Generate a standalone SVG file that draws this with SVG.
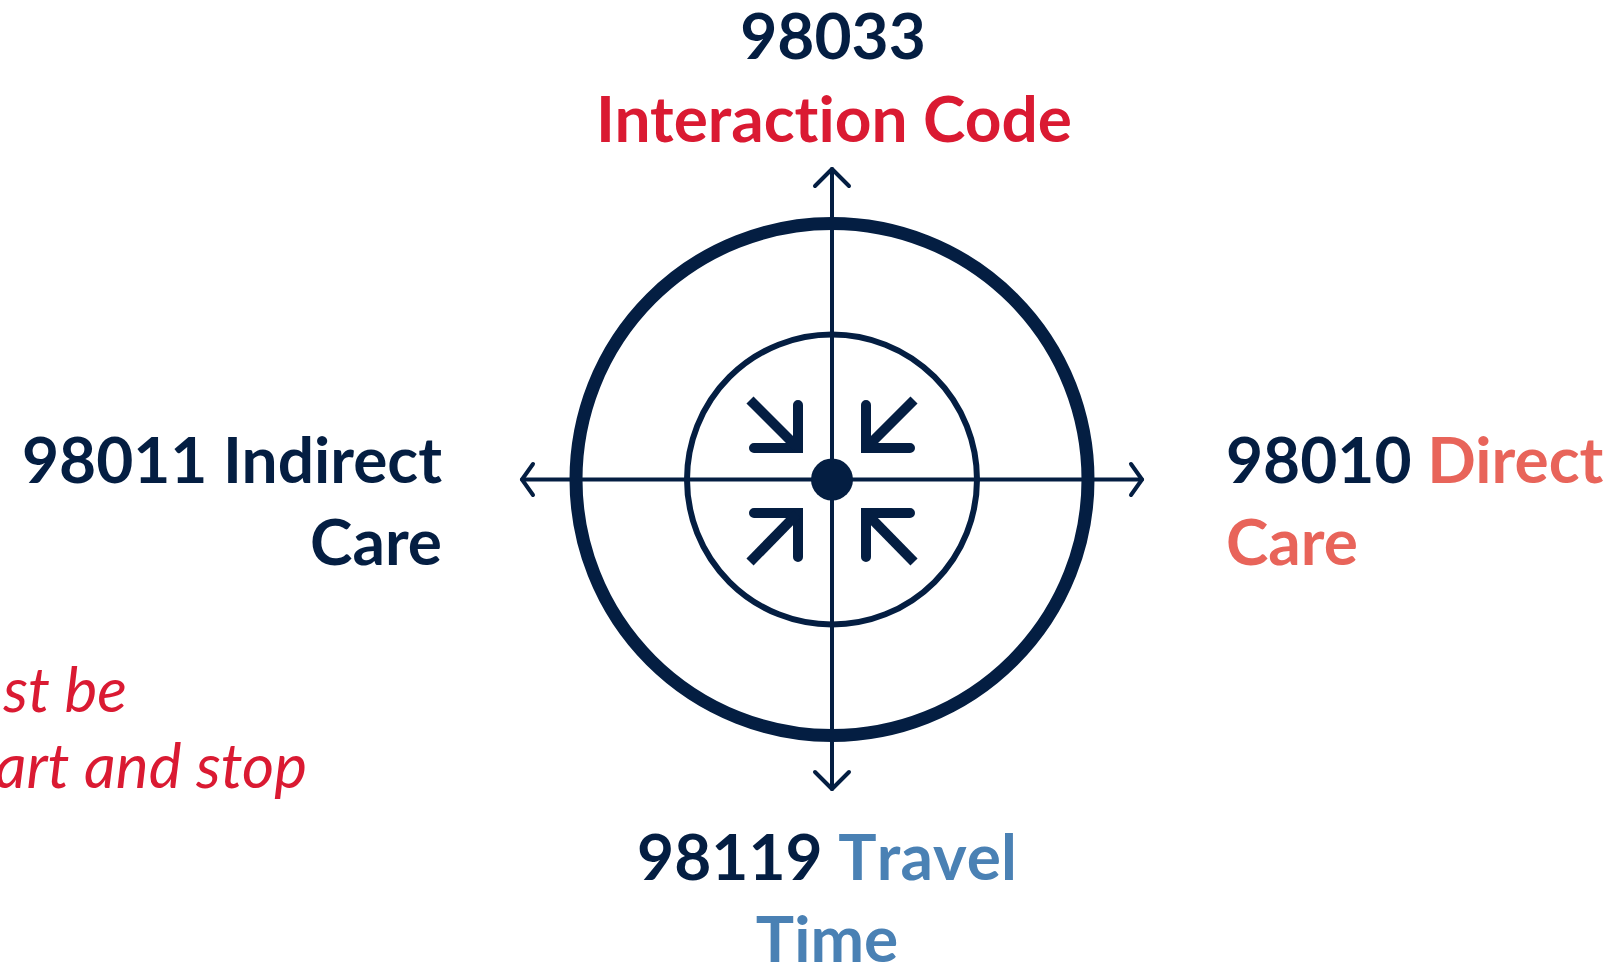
<svg xmlns="http://www.w3.org/2000/svg" width="1613" height="967" viewBox="0 0 1613 967">
<style>
text{font-variant-ligatures:none;font-feature-settings:"liga" 0,"clig" 0}
.lbl{font-family:Lato,"Open Sans","Liberation Sans",sans-serif;font-weight:700;font-size:64px}
.nok{font-kerning:none}
.navy{fill:#041e42}
.red{fill:#da1a32}
.coral{fill:#e8645a}
.blue{fill:#4a81b4}
.note{font-family:Lato,"Open Sans","Liberation Sans",sans-serif;font-style:italic;font-weight:400;font-size:62px;fill:#da1a32}
.axis{stroke:#041e42;stroke-width:4;fill:none;stroke-linecap:round;stroke-linejoin:round}
.arm{stroke:#041e42;stroke-width:10;fill:none;stroke-linecap:round;stroke-linejoin:miter}
.diag{stroke:#041e42;stroke-width:10;fill:none;stroke-linecap:butt}
</style>
<rect width="1613" height="967" fill="#ffffff"/>
<g id="target">
<circle cx="832" cy="479.5" r="256" fill="none" stroke="#041e42" stroke-width="13"/>
<circle cx="832" cy="479.5" r="145" fill="none" stroke="#041e42" stroke-width="6"/>
</g>
<g id="connectors">
<line class="axis" x1="832" y1="169" x2="832" y2="789"/>
<line class="axis" x1="522" y1="479.5" x2="1142" y2="479.5"/>
<polyline class="axis" points="815,186 832,169 849,186"/>
<polyline class="axis" points="815,772 832,789 849,772"/>
<polyline class="axis" points="533,464 522,479.5 533,495"/>
<polyline class="axis" points="1131,464 1142,479.5 1131,495"/>
</g>
<g id="center-icon">
<circle cx="832" cy="479.5" r="21" fill="#041e42"/>
<path class="arm" d="M754,448 H798 V405"/>
<path class="diag" d="M750,400 L797,447"/>
<path class="arm" d="M910,448 H866 V405"/>
<path class="diag" d="M914,400 L867,447"/>
<path class="arm" d="M754,513 H798 V557"/>
<path class="diag" d="M750,562 L797,514"/>
<path class="arm" d="M910,513 H866 V557"/>
<path class="diag" d="M914,562 L867,514"/>
</g>
<g id="label-top">
<text class="lbl navy" x="833" y="59" text-anchor="middle">98033</text>
<text class="lbl red" x="834" y="142" text-anchor="middle">Interaction Code</text>
</g>
<g id="label-left">
<text class="lbl navy" x="442" y="483" text-anchor="end">98011 Indirect</text>
<text class="lbl navy" x="442" y="565" text-anchor="end">Care</text>
</g>
<g id="label-right">
<text class="lbl" x="1226" y="483"><tspan class="navy">98010 </tspan><tspan class="coral">Direct</tspan></text>
<text class="lbl coral" x="1226" y="565">Care</text>
</g>
<g id="label-bottom">
<text class="lbl nok" x="827" y="880" text-anchor="middle"><tspan class="navy">98119 </tspan><tspan class="blue">Travel</tspan></text>
<text class="lbl nok" x="827" y="962" text-anchor="middle"><tspan class="blue">Time</tspan></text>
</g>
<g id="note">
<text class="note" x="127" y="712" text-anchor="end">st be</text>
<text class="note" x="307" y="788" text-anchor="end">art and stop</text>
</g>
</svg>
